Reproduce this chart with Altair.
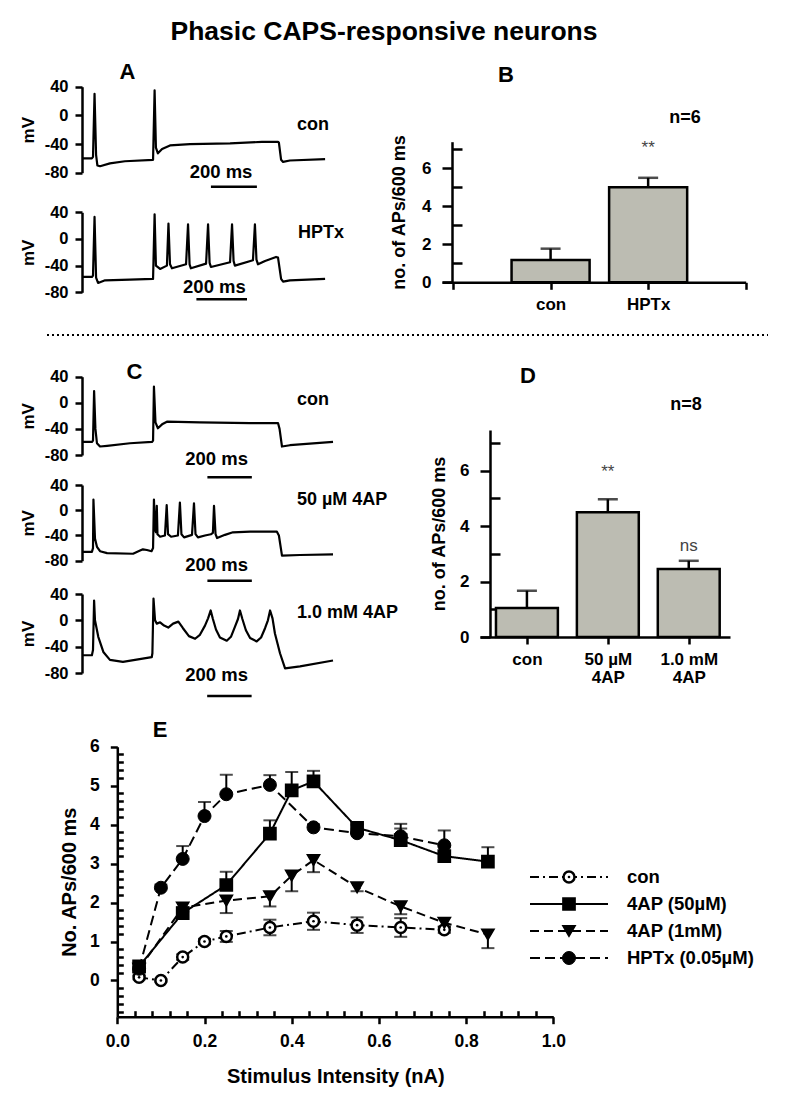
import json
import altair as alt
import pandas as pd

FONT = "Liberation Sans"
W, H = 780, 1090


def P(v):
    """page pixel -> chart-group pixel (page margin 8 px, padding 0)"""
    return v - 8


# ---------------- voltage traces: time (ms) and membrane potential (mV) ----------------
a_con_t = [0, 45, 50, 57, 64, 70, 82, 127, 195, 323, 330, 336, 345, 364, 400, 491, 673, 818, 891, 895,
           905, 914, 945, 1105]
a_con_v = [-60, -60, -58, 30, -55, -70, -71, -67, -64, -62, 35, -45, -53, -47, -42, -40, -39, -37, -37, -38,
           -62, -65, -63, -61]

a_hptx_t = [0, 45, 50, 57, 64, 73, 105, 218, 323, 330, 336, 355, 386, 393, 400, 409, 473, 482, 489, 495,
            564, 573, 580, 586, 673, 682, 689, 695, 777, 786, 793, 800, 832, 882, 891, 905, 914, 945, 1105]
a_hptx_v = [-57, -57, -55, 33, -58, -66, -62, -61, -60, 37, -40, -45, -40, 23, -38, -44, -38, 22, -38, -44,
            -37, 22, -36, -42, -35, 22, -33, -40, -32, 22, -31, -38, -33, -27, -28, -60, -64, -62, -60]

c_con_t = [0, 45, 50, 55, 61, 68, 82, 114, 218, 318, 323, 327, 334, 345, 364, 386, 536, 764, 891, 898,
           909, 945, 1141]
c_con_v = [-60, -60, -58, 18, -40, -62, -67, -66, -62, -60, -58, 25, -30, -39, -33, -29, -30, -31, -31, -40,
           -67, -65, -60]

c_50_t = [0, 45, 50, 52, 59, 68, 82, 114, 232, 264, 277, 295, 316, 323, 327, 332, 336, 340, 343, 355,
          377, 385, 391, 405, 436, 445, 452, 464, 500, 509, 516, 527, 559, 586, 595, 600, 607, 614, 650, 686,
          764, 886, 895, 909, 991, 1141]
c_50_v = [-66, -66, -60, 17, -45, -58, -65, -68, -69, -64, -62, -63, -65, -60, 17, -30, -35, 7, -38, -42,
          -40, 8, -38, -42, -40, 12, -38, -43, -39, 11, -38, -43, -40, -38, -36, 7, -38, -44, -39, -35,
          -34, -34, -40, -72, -71, -70]

c_1mm_t = [0, 45, 50, 55, 59, 74, 97, 127, 186, 317, 320, 325, 332, 340, 355, 373, 392, 414, 438, 459,
           486, 514, 536, 559, 573, 585, 595, 609, 627, 658, 677, 695, 709, 718, 729, 745, 764, 794, 814, 832,
           845, 855, 866, 877, 900, 923, 991, 1141]
c_1mm_v = [-53, -53, -45, 30, 0, -25, -48, -60, -63, -56, -50, 33, 0, -5, -3, -8, -11, -5, -2, -12,
           -24, -28, -22, -8, 3, 15, 2, -14, -26, -31, -25, -10, 2, 15, 2, -15, -27, -32, -26, -12,
           0, 15, 3, -20, -50, -73, -70, -61]

# ---------------- bar panels ----------------
b_groups = ["con", "HPTx"]
b_mean = [1.17, 5.0]
b_sem = [0.6, 0.5]

d_groups = ["con", "50 µM 4AP", "1.0 mM 4AP"]
d_mean = [1.05, 4.5, 2.45]
d_sem = [0.62, 0.47, 0.3]

# ---------------- panel E: APs vs stimulus intensity ----------------
e_series = ["con", "4AP (50µM)", "4AP (1mM)", "HPTx (0.05µM)"]
e_con_x = [0.05, 0.1, 0.15, 0.2, 0.25, 0.35, 0.45, 0.55, 0.65, 0.75]
e_con_y = [0.08, 0.0, 0.6, 1.0, 1.13, 1.36, 1.52, 1.42, 1.36, 1.3]
e_con_err = [0.05, 0.03, 0.07, 0.07, 0.14, 0.2, 0.22, 0.2, 0.24, 0.08]
e_50_x = [0.05, 0.15, 0.25, 0.35, 0.4, 0.45, 0.55, 0.65, 0.75, 0.85]
e_50_y = [0.36, 1.73, 2.45, 3.77, 4.88, 5.11, 3.92, 3.6, 3.19, 3.05]
e_50_err = [0.1, 0.15, 0.34, 0.34, 0.47, 0.27, 0.08, 0.3, 0.25, 0.37]
e_1mm_x = [0.05, 0.15, 0.25, 0.35, 0.4, 0.45, 0.55, 0.65, 0.75, 0.85]
e_1mm_y = [0.3, 1.87, 2.05, 2.16, 2.69, 3.09, 2.39, 1.9, 1.48, 1.18]
e_1mm_err = [0.1, 0.1, 0.32, 0.26, 0.4, 0.31, 0.1, 0.2, 0.1, 0.35]
e_hptx_x = [0.05, 0.1, 0.15, 0.2, 0.25, 0.35, 0.45, 0.55, 0.65, 0.75]
e_hptx_y = [0.3, 2.38, 3.12, 4.22, 4.78, 5.02, 3.93, 3.78, 3.7, 3.47]
e_hptx_err = [0.0, 0.08, 0.33, 0.36, 0.5, 0.25, 0.08, 0.1, 0.32, 0.38]
e_err_dir = ["both", "up", "down", "up"]

# ---------------- trace panels ----------------
T_DOMAIN = [0, 1150]
T_RANGE = [P(82), P(335)]
HYPHEN_LABEL = "datum.value < 0 ? '-' + (-datum.value) : '' + datum.value"


def trace_panel(t, v, top, bottom, label, label_pos, lab_pos, bar_t, bar_v):
    df = pd.DataFrame({"t": t, "v": v})
    xs = alt.Scale(domain=T_DOMAIN, range=T_RANGE, nice=False, zero=False)
    ys = alt.Scale(domain=[-80, 40], range=[P(bottom), P(top)], nice=False, zero=False)
    yax = alt.Axis(orient="left", offset=-P(82), values=[-80, -40, 0, 40], title="mV",
                   labelExpr=HYPHEN_LABEL,
                   labelFontSize=16.5, titleFontSize=17, tickSize=7, tickWidth=2.5, domainWidth=2.5,
                   labelPadding=7, titlePadding=7, labelFlush=False, labelOverlap=False)
    x = alt.X("t:Q", scale=xs, axis=None)
    y = alt.Y("v:Q", scale=ys, axis=yax)
    line = alt.Chart(df).mark_line(color="black", strokeWidth=2.2, strokeJoin="round").encode(x=x, y=y)
    lab = pd.DataFrame({"t": [label_pos[0]], "v": [label_pos[1]], "text": [label]})
    lab_txt = alt.Chart(lab).mark_text(align="left", baseline="middle", fontSize=18).encode(
        x=x, y=y, text="text:N")
    sb = pd.DataFrame({"t": [lab_pos[0]], "v": [lab_pos[1]], "text": ["200 ms"]})
    sb_txt = alt.Chart(sb).mark_text(align="center", baseline="middle", fontSize=18.5).encode(
        x=x, y=y, text="text:N")
    bar = pd.DataFrame({"t": [bar_t[0]], "t2": [bar_t[1]], "v": [bar_v]})
    bar_rule = alt.Chart(bar).mark_rule(color="black", strokeWidth=2.5).encode(x=x, x2="t2:Q", y=y)
    return alt.layer(line, lab_txt, sb_txt, bar_rule)


A1 = trace_panel(a_con_t, a_con_v, 86.7, 172.7, "con", (977, -13.4), (632, -78.6), (586, 795), -99.5)
A2 = trace_panel(a_hptx_t, a_hptx_v, 212.3, 292.3, "HPTx", (982, 9), (602, -71.6), (520, 750), -90.5)
C1 = trace_panel(c_con_t, c_con_v, 376.7, 455, "con", (977, 4.3), (612, -86.6), (570, 772), -114.2)
C2 = trace_panel(c_50_t, c_50_v, 485, 560.7, "50 µM 4AP", (977, 16.2), (612, -86.8), (570, 772), -111.7)
C3 = trace_panel(c_1mm_t, c_1mm_v, 594, 673, "1.0 mM 4AP", (977, 11.1), (612, -83), (569, 771), -115)

# ---------------- bar panels ----------------
BAR_FILL = "#bcbcb2"


def bar_panel(groups, means, sems, x_dom, x_rng, tick_vals, bar_w, yaxis_x, y0, ytop, ymax, marks,
              title_pad):
    pos = list(range(1, len(groups) + 1))
    df = pd.DataFrame({"g": groups, "p": pos, "m": means, "z": [0] * len(groups),
                       "hi": [a + b for a, b in zip(means, sems)],
                       "p0": [p - bar_w / 2 for p in pos], "p1": [p + bar_w / 2 for p in pos]})
    labels = [""] + [g.rsplit(" ", 1) if "4AP" in g else g for g in groups] + [""] * 3
    lab_expr = json.dumps(labels, ensure_ascii=False) + "[datum.value] || ''"
    xs = alt.Scale(domain=x_dom, range=[P(x_rng[0]), P(x_rng[1])], nice=False, zero=False)
    xax = alt.Axis(orient="bottom", offset=P(y0) - H, title=None, values=tick_vals, labelExpr=lab_expr,
                   labelFontSize=17, tickSize=7, tickWidth=2.5, domainWidth=2.5, labelPadding=7,
                   labelLineHeight=18, labelFlush=False, labelOverlap=False)
    ys = alt.Scale(domain=[0, ymax], range=[P(y0), P(ytop)], nice=False, zero=False)
    yax = alt.Axis(orient="left", offset=-P(yaxis_x), values=list(range(0, 8)),
                   labelExpr="datum.value % 2 === 0 ? datum.label : ''",
                   tickSize={"condition": {"test": "datum.value % 2 === 0", "value": 10}, "value": -10},
                   title="no. of APs/600 ms", titleFontSize=18, labelFontSize=17, tickWidth=2.5,
                   domainWidth=2.5, labelPadding=11, titlePadding=title_pad, labelFlush=False,
                   labelOverlap=False)
    x = alt.X("p0:Q", scale=xs, axis=xax)
    y = alt.Y("m:Q", scale=ys, axis=yax)
    bars = alt.Chart(df).mark_bar(fill=BAR_FILL, stroke="black", strokeWidth=2.5).encode(
        x=x, x2="p1:Q", y=y, y2="z:Q")
    err = alt.Chart(df).mark_rule(color="black", strokeWidth=2.5).encode(
        x=alt.X("p:Q", scale=xs, axis=xax), y=y, y2="hi:Q")
    cap = alt.Chart(df).mark_tick(color="black", size=20, thickness=2.5, orient="horizontal").encode(
        x=alt.X("p:Q", scale=xs, axis=xax), y=alt.Y("hi:Q", scale=ys, axis=yax))
    mk = pd.DataFrame({"p": [groups.index(m[0]) + 1 for m in marks], "m": [m[1] for m in marks],
                       "text": [m[2] for m in marks]})
    stars = alt.Chart(mk).mark_text(fontSize=17, fontWeight="normal", color="#444", baseline="middle").encode(
        x=alt.X("p:Q", scale=xs, axis=xax), y=y, text="text:N")
    return alt.layer(bars, err, cap, stars)


B = bar_panel(b_groups, b_mean, b_sem, [-0.113, 3.0], (442, 745.7), [0, 1, 2, 3], 0.8, 452, 282.3, 141.7,
              7.4, [("HPTx", 7.05, "**")], 13)
D = bar_panel(d_groups, d_mean, d_sem, [0.42, 3.51], (480, 730), [1, 2, 3], 0.765, 490, 637, 430, 7.47,
              [("50 µM 4AP", 5.96, "**"), ("1.0 mM 4AP", 3.3, "ns")], 11)

# ---------------- panel E ----------------
rows, caps = [], []
for name, xs_, ys_, es, d in zip(e_series, [e_con_x, e_50_x, e_1mm_x, e_hptx_x],
                                 [e_con_y, e_50_y, e_1mm_y, e_hptx_y],
                                 [e_con_err, e_50_err, e_1mm_err, e_hptx_err], e_err_dir):
    for xv, yv, ev in zip(xs_, ys_, es):
        lo = yv - ev if d in ("both", "down") else yv
        hi = yv + ev if d in ("both", "up") else yv
        rows.append({"series": name, "x": xv, "y": yv, "lo": lo, "hi": hi})
        if ev > 0:
            if d in ("both", "up"):
                caps.append({"series": name, "x": xv, "y": hi})
            if d in ("both", "down"):
                caps.append({"series": name, "x": xv, "y": lo})
edf = pd.DataFrame(rows)
cdf = pd.DataFrame(caps)

E_XMAJ = "abs(datum.value*5 - round(datum.value*5)) < 0.001"
E_YMAJ = "abs(datum.value - round(datum.value)) < 0.001"
exs = alt.Scale(domain=[0, 1], range=[P(117.3), P(553.3)], nice=False, zero=False)
exax = alt.Axis(orient="bottom", offset=P(1016.7) - H, values=[round(i * 0.04, 2) for i in range(26)],
                labelExpr=E_XMAJ + " ? format(datum.value, '.1f') : ''",
                tickSize={"condition": {"test": E_XMAJ, "value": 7}, "value": -6},
                title="Stimulus Intensity (nA)", titleFontSize=20, labelFontSize=17.5, tickWidth=2.5,
                domainWidth=2.5, labelPadding=9, titlePadding=16, labelFlush=False, labelOverlap=False)
eys = alt.Scale(domain=[-0.93, 6], range=[P(1016.7), P(746.7)], nice=False, zero=False)
eyax = alt.Axis(orient="left", offset=-P(117.3), values=[round(-0.8 + i * 0.2, 1) for i in range(35)],
                labelExpr=E_YMAJ + " ? format(datum.value, 'd') : ''",
                tickSize={"condition": {"test": E_YMAJ, "value": 7}, "value": -6},
                title="No. APs/600 ms", titleFontSize=20, labelFontSize=17.5, tickWidth=2.5,
                domainWidth=2.5, labelPadding=11, titlePadding=10, labelFlush=False, labelOverlap=False)
ex = alt.X("x:Q", scale=exs, axis=exax)
ey = alt.Y("y:Q", scale=eys, axis=eyax)
dash = alt.StrokeDash("series:N", scale=alt.Scale(domain=e_series, range=[[9, 4, 2, 4], [1, 0], [9, 5], [10, 5]]),
                      legend=None)
shape = alt.Shape("series:N", scale=alt.Scale(domain=e_series,
                                              range=["circle", "square", "triangle-down", "circle"]), legend=None)
fill = alt.Fill("series:N", scale=alt.Scale(domain=e_series, range=["white", "black", "black", "black"]),
                legend=None)
size = alt.Size("series:N", scale=alt.Scale(domain=e_series, range=[121, 169, 170, 144]), legend=None)
sw = alt.StrokeWidth("series:N", scale=alt.Scale(domain=e_series, range=[2.5, 1, 1, 1]), legend=None)

e_lines = alt.Chart(edf).mark_line(color="black", strokeWidth=2).encode(x=ex, y=ey, strokeDash=dash,
                                                                        detail="series:N")
e_err = alt.Chart(edf).mark_rule(color="black", strokeWidth=2).encode(
    x=ex, y=alt.Y("lo:Q", scale=eys, axis=eyax), y2="hi:Q")
e_cap = alt.Chart(cdf).mark_tick(color="black", size=13, thickness=2, orient="horizontal").encode(x=ex, y=ey)
e_pts = alt.Chart(edf).mark_point(filled=True, stroke="black", opacity=1).encode(
    x=ex, y=ey, shape=shape, fill=fill, size=size, strokeWidth=sw)
e_dot = alt.Chart(edf).transform_filter(alt.datum.series == "con").mark_point(
    filled=True, color="black", size=7, shape="circle", opacity=1).encode(x=ex, y=ey)
E_main = alt.layer(e_lines, e_err, e_cap, e_pts, e_dot)

leg = pd.DataFrame({"series": e_series})
ly = alt.Y("series:N", scale=alt.Scale(type="point", domain=e_series, range=[P(877), P(958)], padding=0),
           axis=None)
leg_rule = alt.Chart(leg).mark_rule(color="black", strokeWidth=2).encode(
    x=alt.value(P(530)), x2=alt.value(P(608)), y=ly, strokeDash=dash)
leg_pts = alt.Chart(leg).mark_point(filled=True, stroke="black", opacity=1).encode(
    x=alt.value(P(569)), y=ly, shape=shape, fill=fill, size=size, strokeWidth=sw)
leg_dot = alt.Chart(leg).transform_filter(alt.datum.series == "con").mark_point(
    filled=True, color="black", size=7, shape="circle", opacity=1).encode(x=alt.value(P(569)), y=ly)
leg_txt = alt.Chart(leg).mark_text(align="left", baseline="middle", fontSize=18.5).encode(
    x=alt.value(P(627)), y=ly, text="series:N")
E_leg = alt.layer(leg_rule, leg_pts, leg_dot, leg_txt)

# ---------------- titles, panel letters, separator ----------------
one = pd.DataFrame({"k": [0]})
title = alt.Chart(one).mark_text(fontSize=26.5, baseline="middle").encode(
    x=alt.value(P(384)), y=alt.value(P(32)), text=alt.value("Phasic CAPS-responsive neurons"))
letters = []
for ch, (px, py) in zip("ABCDE", [(127.5, 72), (506, 75), (134.5, 372), (528, 376), (160, 730)]):
    letters.append(alt.Chart(one).mark_text(fontSize=22, baseline="middle").encode(
        x=alt.value(P(px)), y=alt.value(P(py)), text=alt.value(ch)))
nlabels = []
for txt, (px, py) in zip(["n=6", "n=8"], [(685, 118), (686, 405)]):
    nlabels.append(alt.Chart(one).mark_text(fontSize=18, baseline="middle").encode(
        x=alt.value(P(px)), y=alt.value(P(py)), text=alt.value(txt)))
sep = alt.Chart(one).mark_rule(color="black", strokeWidth=2, strokeDash=[2, 3]).encode(
    x=alt.value(P(47)), x2=alt.value(P(768)), y=alt.value(P(335)))

chart = alt.layer(
    A1, A2, B, C1, C2, C3, D, E_main, E_leg, title, sep, *letters, *nlabels
).resolve_scale(x="independent", y="independent").properties(
    width=W, height=H, autosize=alt.AutoSizeParams(type="none"), padding=0, background="white"
).configure_view(stroke=None).configure_axis(
    grid=False, domainColor="black", tickColor="black", labelColor="black", titleColor="black",
    labelFont=FONT, titleFont=FONT, labelFontWeight="bold", titleFontWeight="bold"
).configure_text(font=FONT, fontWeight="bold", color="black")

chart.save("out.html", embed_options={"renderer": "svg", "actions": False})
